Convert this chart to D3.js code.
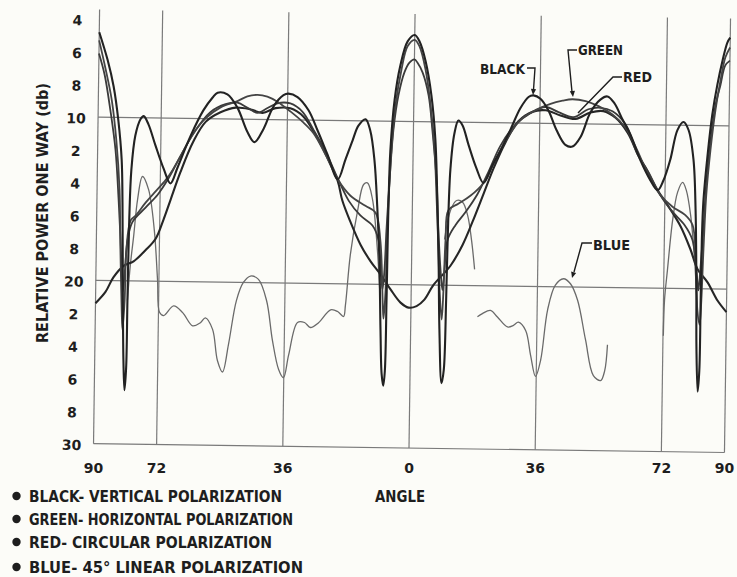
<!DOCTYPE html>
<html><head><meta charset="utf-8">
<script src="https://cdn.jsdelivr.net/npm/d3@7"></script>
<style>
html,body{margin:0;padding:0;background:#fcfcf8;}
svg{display:block;}
text{font-family:"DejaVu Sans",sans-serif;font-weight:bold;fill:#1e1e1e;}
</style></head><body>
<svg id="chart" width="737" height="577"></svg>
<script>
// ---------- axes ----------
const angleTicks = [-90, -72, -36, 0, 36, 72, 90];
const angleTickLabels = ["90", "72", "36", "0", "36", "72", "90"];
const dbTicks = [4, 6, 8, 10, 12, 14, 16, 18, 20, 22, 24, 26, 28, 30];
const dbTickLabels = ["4", "6", "8", "10", "2", "4", "6", "8", "20", "2", "4", "6", "8", "30"];
const dbGridLines = [10, 20, 30];

// ---------- series (angle in degrees, relative power in dB) ----------
const blackAngle = [-90,-87.5,-85.7,-84.2,-83.1,-82.7,-82.2,-81.8,-81.4,-81.0,-80.9,-80.7,-80.3,-79.3,-77.9,-77.0,-75.6,-73.5,-71.1,-69.1,-67.1,-63.6,-60.0,-57.4,-56.0,-53.2,-50.3,-47.3,-45.3,-42.8,-40.0,-37.2,-35.8,-33.2,-30.0,-27.4,-24.4,-21.4,-19.3,-17.3,-15.7,-13.7,-12.3,-11.0,-10.0,-9.2,-8.6,-8.1,-7.6,-7.2,-7.0,-6.9,-6.8,-6.5,-5.5,-4.0,-2.0,0,1.4,3.2,5.0,6.3,7.1,7.7,8.2,9.0,9.6,10.0,10.2,10.7,11.7,12.8,14.0,15.8,18.1,20.2,22.7,24.9,27.7,30.4,32.7,34.1,36.1,38.4,40.8,43.4,45.4,47.7,50.4,53.2,55.2,57.2,59.6,61.9,64.9,67.8,69.9,71.5,73.4,75.3,77.0,78.5,80.0,80.8,81.3,81.6,82.1,82.5,82.6,82.7,83.0,84.0,85.2,86.5,87.9,89.2,90];
const blackDb = [4.8,6.5,8.1,10.2,12.6,15.2,21.2,24.9,26.7,25.3,21.2,16.2,13.2,11.1,10.1,9.9,10.4,11.7,13.1,14.0,13.0,11.1,9.5,8.7,8.4,8.5,9.3,10.8,11.4,10.6,9.2,8.5,8.4,8.6,9.4,10.6,12.1,13.6,12.4,11.2,10.3,9.9,10.6,12.4,15.3,18.5,22.8,25.5,26.2,25.3,21.0,17.3,14.8,11.8,8.7,6.6,5.1,4.7,5.1,6.3,8.4,11.1,14.8,18.5,22.7,26.0,25.2,20.9,17.2,12.9,10.7,9.9,10.2,11.4,12.8,13.7,12.6,11.7,10.4,9.1,8.4,8.3,8.5,9.2,10.4,11.3,11.4,10.8,9.3,8.5,8.3,8.7,9.7,10.6,12.2,13.4,14.0,13.4,12.1,10.3,9.8,10.3,12.1,15.2,19.5,23.7,26.3,25.0,20.7,17.0,14.6,11.8,9.3,7.5,6.0,4.9,4.6];

const greenAngle = [-90,-88.1,-86.2,-84.7,-83.6,-83.1,-82.5,-82.2,-81.7,-81.4,-80.3,-78.9,-76.1,-73.3,-70.5,-68.6,-66.3,-62.7,-59.4,-55.1,-50.3,-47.5,-44.6,-41.8,-38.9,-35.1,-31.7,-28.5,-25.0,-21.4,-17.7,-13.4,-10.5,-9.0,-8.1,-7.8,-7.3,-7.2,-6.8,-6.2,-5.2,-3.7,-2.0,0,1.4,3.2,4.8,6.1,6.9,7.6,8.1,8.8,9.2,9.6,10.3,13.1,16.5,20.2,23.5,26.9,30.5,34.7,39.0,42.4,45.2,49.0,52.7,56.7,60.5,64.0,67.2,70.7,74.2,77.9,80.0,81.0,81.7,82.4,82.8,83.2,83.8,84.8,86.1,87.4,88.7,90];
const greenDb = [5.3,7.0,8.9,11.4,14.4,18.1,21.8,23.0,21.2,18.1,16.3,16.0,15.2,14.5,13.8,13.2,12.3,10.9,10.0,9.3,8.9,8.6,8.5,8.6,8.9,9.5,10.1,10.8,12.1,13.6,14.6,15.2,15.6,17.3,21.0,22.1,20.3,17.9,14.8,11.8,9.0,6.9,5.4,5.0,5.4,6.8,9.0,11.7,14.8,17.8,20.3,22.1,20.3,17.2,15.4,15.0,14.5,13.7,12.3,10.9,9.8,9.2,8.8,8.6,8.5,8.6,8.9,9.4,10.2,11.6,13.1,14.3,15.0,15.5,16.1,18.2,21.3,22.2,20.7,17.6,14.2,11.5,9.0,7.2,5.8,5.2];

const redAngle = [-90,-88.3,-86.5,-84.9,-83.8,-83.1,-82.7,-82.3,-81.8,-81.1,-79.8,-76.1,-72.7,-69.7,-66.3,-62.7,-58.0,-53.7,-50.3,-47.4,-44.6,-41.7,-38.9,-35.2,-31.7,-28.5,-25.0,-21.5,-18.2,-14.8,-11.3,-9.5,-8.8,-8.2,-7.7,-7.3,-6.6,-5.7,-4.4,-2.8,-1.4,0,0.9,2.4,4.2,5.4,6.8,7.5,8.3,8.9,9.4,10.2,12.4,15.2,18.5,21.6,24.9,29.1,33.3,37.6,41.3,45.6,49.8,53.3,56.7,60.5,64.0,67.2,70.7,74.2,77.7,80.0,81.3,81.9,82.4,83.1,83.8,84.8,86.1,87.4,88.7,90];
const redDb = [6.1,7.4,9.6,12.0,15.1,17.5,19.3,20.7,19.6,17.5,16.4,15.5,14.7,13.7,12.3,10.9,9.6,9.1,9.0,9.3,9.6,9.3,9.0,9.0,9.5,10.6,11.9,13.5,14.9,15.8,16.4,17.3,19.1,20.3,19.1,16.7,13.6,10.5,8.4,7.0,6.4,6.2,6.4,7.0,8.4,10.5,13.6,16.6,19.1,20.3,19.1,17.2,16.3,15.5,14.4,13.0,11.4,10.1,9.4,9.0,9.3,9.6,9.1,9.0,9.2,10.0,11.8,12.9,14.3,15.3,16.1,17.0,18.9,20.1,18.8,16.4,13.3,10.9,8.7,7.5,6.3,6.0];

const redBowlAngle = [-90,-87.2,-85.0,-82.2,-79.3,-75.9,-73.1,-70.9,-69.0,-66.3,-62.7,-59.3,-55.1,-50.8,-46.5,-43.1,-39.4,-35.2,-31.4,-27.9,-24.4,-21.4,-20.0,-17.6,-14.6,-11.7,-8.8,-5.9,-3.0,-0.7,1.6,3.8,6.3,11.1,14.5,17.2,20.2,23.0,26.3,29.9,33.9,37.6,41.9,46.2,50.4,54.1,57.6,61.1,64.3,66.3,69.3,73.1,76.6,79.5,81.6,84.5,87.4,90];
const redBowlDb = [21.4,20.7,19.8,19.1,18.8,18.1,17.4,16.2,15.0,13.3,11.4,10.2,9.6,9.3,9.4,9.6,9.3,9.3,9.8,10.9,12.3,13.7,14.9,16.2,17.6,18.6,19.4,20.3,21.1,21.4,21.3,20.9,20.0,18.8,17.5,16.1,14.4,12.8,11.2,9.9,9.3,9.2,9.5,9.7,9.3,9.2,9.6,10.5,11.9,12.6,13.8,15.0,16.2,17.6,18.8,19.6,20.7,21.4];

// blue trace is broken into separate pen strokes (null = pen lifted)
const blueAngle = [-80.9,-80.2,-79.4,-78.4,-77.1,-75.3,-73.5,-72.4,-71.7,-70.5,-67.7,-65.1,-62.2,-60.0,-58.6,-56.5,-55.0,-53.5,-51.9,-49.8,-47.9,-45.9,-43.6,-41.2,-39.4,-37.5,-36.1,-34.7,-32.3,-30.3,-28.6,-26.3,-22.9,-20.9,-19.2,-18.7,-17.5,-15.6,-14.0,-12.9,-11.4,-9.8,-9.0,
  0,
  9.3,10.9,12.6,14.3,15.8,17.0,18.0,
  18.5,
  19.0,20.4,22.7,24.7,27.6,29.3,30.7,32.8,34.3,35.8,37.2,39.0,41.1,43.4,45.4,47.5,49.9,52.3,54.4,55.5,56.2,
  64,
  72.1,72.3,73.0,74.3,75.6,77.0,78.1,79.4,80.7,81.7];
const blueDb = [21.2,19.0,17.3,15.0,13.6,14.4,16.9,19.9,21.9,22.1,21.5,21.9,22.7,22.5,22.2,22.9,24.8,25.5,23.8,21.1,20.0,19.6,19.8,21.1,23.5,25.3,25.8,24.4,22.4,22.4,22.7,22.4,21.6,21.7,22.0,21.3,18.2,15.5,13.9,13.8,14.8,17.9,20.3,
  null,
  17.2,15.4,14.8,14.9,15.7,17.2,19.0,
  null,
  21.9,21.7,21.5,21.9,22.5,22.4,22.2,22.7,24.2,25.5,24.5,21.4,19.9,19.5,19.8,20.8,23.2,25.4,25.7,25.1,23.5,
  null,
  22.9,20.7,18.9,15.8,14.1,13.5,14.0,15.5,18.2,21.3];

const legendItems = ["BLACK- VERTICAL POLARIZATION", "GREEN- HORIZONTAL POLARIZATION", "RED- CIRCULAR POLARIZATION", "BLUE- 45\u00B0 LINEAR POLARIZATION"];

// ---------- drawing ----------
const W = 737, H = 577;
const svg = d3.select("#chart");
svg.append("rect").attr("width", W).attr("height", H).attr("fill", "#fcfcf8");

const x = d3.scaleLinear().domain([-90, 90]).range([96.5, 727.5]);
const y = d3.scaleLinear().domain([10, 30]).range([121.5, 448.1]);

// the scanned sheet is turned slightly clockwise
const plot = svg.append("g").attr("transform", "rotate(0.8,412,233)");

plot.append("g").selectAll("line").data(angleTicks).join("line")
  .attr("x1", d => x(d)).attr("x2", d => x(d))
  .attr("y1", 14).attr("y2", y(30))
  .attr("stroke", "#7a7a7a").attr("stroke-width", 1.2);
plot.append("g").selectAll("line").data(dbGridLines).join("line")
  .attr("x1", x(-90)).attr("x2", x(90))
  .attr("y1", d => y(d)).attr("y2", d => y(d))
  .attr("stroke", "#7a7a7a").attr("stroke-width", 1.2);

plot.append("g").selectAll("text").data(dbTicks).join("text")
  .attr("x", 74.5).attr("y", d => y(d) + 1.5).attr("dy", "0.36em")
  .attr("text-anchor", "middle").attr("font-size", 14)
  .text((d, i) => dbTickLabels[i]);

function pts(a, v) { return a.map((d, i) => ({a: d, v: v[i]})); }
const line = d3.line()
  .defined(d => d.v != null)
  .x(d => x(d.a)).y(d => y(d.v))
  .curve(d3.curveCatmullRom.alpha(0.5));

const curves = [
  {data: pts(blueAngle, blueDb), color: "#6a6a6a", w: 1.3},
  {data: pts(redBowlAngle, redBowlDb), color: "#262626", w: 2.1},
  {data: pts(redAngle, redDb), color: "#3a3a3a", w: 1.8},
  {data: pts(greenAngle, greenDb), color: "#444444", w: 1.8},
  {data: pts(blackAngle, blackDb), color: "#222222", w: 2.1}
];
plot.append("g").selectAll("path").data(curves).join("path")
  .attr("d", d => line(d.data))
  .attr("fill", "none")
  .attr("stroke", d => d.color)
  .attr("stroke-width", d => d.w)
  .attr("stroke-linejoin", "round");

// x tick labels
svg.append("g").selectAll("text").data(angleTicks).join("text")
  .attr("x", d => x(d) - 3).attr("y", 473)
  .attr("text-anchor", "middle").attr("font-size", 14)
  .text((d, i) => angleTickLabels[i]);

svg.append("text").attr("x", 375).attr("y", 502).attr("font-size", 16)
  .attr("textLength", 50).attr("lengthAdjust", "spacingAndGlyphs").text("ANGLE");

svg.append("text").attr("transform", "translate(48,213) rotate(-90)")
  .attr("text-anchor", "middle").attr("font-size", 16)
  .attr("textLength", 260).attr("lengthAdjust", "spacingAndGlyphs")
  .text("RELATIVE POWER ONE WAY (db)");

// legend
const legendWidths = [253, 264, 243, 274];
const legendBase = [502, 525, 548, 573];
const lg = svg.append("g");
lg.selectAll("circle").data(legendItems).join("circle")
  .attr("cx", 16.5).attr("cy", (d, i) => legendBase[i] - 6).attr("r", 4.2).attr("fill", "#1e1e1e");
lg.selectAll("text").data(legendItems).join("text")
  .attr("x", 29).attr("y", (d, i) => legendBase[i]).attr("font-size", 16)
  .attr("textLength", (d, i) => legendWidths[i]).attr("lengthAdjust", "spacingAndGlyphs")
  .text(d => d);

// curve call-outs
const ann = svg.append("g");
function arrowHead(px, py, angDeg) {
  const r = angDeg * Math.PI / 180, L = 6, Wd = 2.6;
  const bx = px - L * Math.cos(r), by = py - L * Math.sin(r);
  const nx = -Math.sin(r) * Wd, ny = Math.cos(r) * Wd;
  ann.append("path").attr("d", `M${px},${py}L${bx + nx},${by + ny}L${bx - nx},${by - ny}Z`).attr("fill", "#1e1e1e");
}
function leader(path) {
  ann.append("path").attr("d", path).attr("fill", "none").attr("stroke", "#1e1e1e").attr("stroke-width", 1.4);
}
function label(t, lx, ly, len) {
  ann.append("text").attr("x", lx).attr("y", ly).attr("font-size", 14)
    .attr("textLength", len).attr("lengthAdjust", "spacingAndGlyphs").text(t);
}
label("BLACK", 480, 74, 45);
leader("M527,68L535,68L533.5,90");
arrowHead(533, 95, 95);
label("GREEN", 578, 55, 45);
leader("M577,50L568,50L572,92");
arrowHead(573, 97, 84);
label("RED", 623, 82, 29);
leader("M622,77L613,77L578,113");
label("BLUE", 593, 250, 37);
leader("M592,243L582,243L574,272");
arrowHead(572, 278, 106);
</script>
</body></html>
